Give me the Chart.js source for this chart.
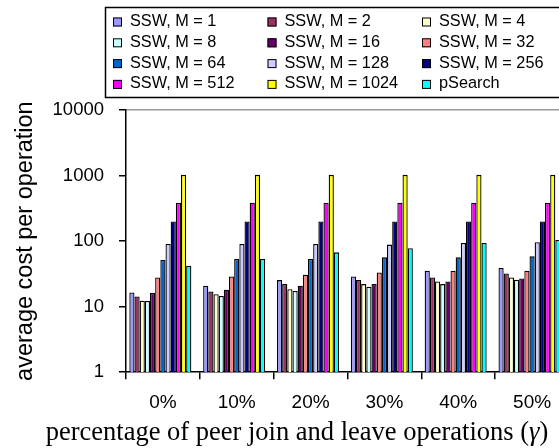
<!DOCTYPE html>
<html><head><meta charset="utf-8">
<script src="https://cdn.jsdelivr.net/npm/chart.js@4/dist/chart.umd.min.js"></script>
<style>
html,body{margin:0;padding:0;background:#fff;overflow:hidden;width:559px;height:448px;}
#wrap{position:relative;width:600px;height:448px;}
canvas{display:block;}
</style></head><body>
<div id="wrap"><canvas id="c" width="600" height="448"></canvas></div>
<script>
// ---- data ----
const categories = ['0%', '10%', '20%', '30%', '40%', '50%'];
const seriesLabels = ['SSW, M = 1', 'SSW, M = 2', 'SSW, M = 4', 'SSW, M = 8', 'SSW, M = 16', 'SSW, M = 32',
  'SSW, M = 64', 'SSW, M = 128', 'SSW, M = 256', 'SSW, M = 512', 'SSW, M = 1024', 'pSearch'];
const seriesColors = ['#9999FF', '#993366', '#FFFFCC', '#CCFFFF', '#660066', '#FF8080',
  '#0066CC', '#CCCCFF', '#000080', '#FF00FF', '#FFFF00', '#00FFFF'];
const sswM1    = [16.4, 20.8, 25.4, 28.9, 35.3, 38.8];
const sswM2    = [14.3, 17.0, 22.1, 25.4, 27.9, 32.1];
const sswM4    = [12.3, 15.5, 18.5, 22.1, 24.2, 27.9];
const sswM8    = [12.2, 14.6, 17.4, 20.1, 22.1, 25.7];
const sswM16   = [16.2, 18.1, 20.8, 22.1, 24.2, 26.9];
const sswM32   = [27.9, 28.9, 30.7, 33.3, 35.3, 35.3];
const sswM64   = [51.5, 53.4, 53.4, 56.5, 56.5, 58.5];
const sswM128  = [90.6, 90.6, 90.6, 88.4, 93.8, 95.9];
const sswM256  = [199, 199, 199, 199, 199, 199];
const sswM512  = [385, 385, 385, 385, 385, 385];
const sswM1024 = [1024, 1024, 1024, 1024, 1024, 1024];
const pSearch  = [42.2, 53.4, 67.3, 77.6, 93.8, 104];
const yTickValues = [1, 10, 100, 1000, 10000];
const yTitle = 'average cost per operation';
const xTitleMain = 'percentage of peer join and leave operations (';
const xTitleSym = 'γ';
const xTitleEnd = ')';

const seriesValues = [sswM1, sswM2, sswM4, sswM8, sswM16, sswM32, sswM64, sswM128, sswM256, sswM512, sswM1024, pSearch];

const datasets = seriesValues.map((vals, i) => ({
  label: seriesLabels[i],
  data: vals,
  backgroundColor: seriesColors[i],
  borderColor: '#000',
  borderWidth: 1.3,
  barPercentage: 1,
  categoryPercentage: 0.91
}));
// empty slot at the end of each cluster (the reference leaves its clusters left-shifted)
datasets.push({ label: '', data: [], backgroundColor: 'rgba(0,0,0,0)', borderWidth: 0, barPercentage: 1, categoryPercentage: 0.91 });

const gridLegend = {
  id: 'gridLegend',
  afterDraw(chart) {
    const ctx = chart.ctx;
    ctx.save();
    ctx.strokeStyle = '#000';
    ctx.lineWidth = 1.5;
    ctx.strokeRect(105.5, 7.5, 490, 90);
    ctx.font = '16.3px "Liberation Sans", Arial, sans-serif';
    ctx.textBaseline = 'middle';
    ctx.textAlign = 'left';
    const items = chart.data.datasets.filter(d => d.label);
    items.forEach((ds, i) => {
      const col = i % 3, row = Math.floor(i / 3);
      const x = 113 + col * 154.5;
      const y = 21.5 + row * 20.8;
      ctx.fillStyle = ds.backgroundColor;
      ctx.fillRect(x, y - 4, 9, 9);
      ctx.lineWidth = 1;
      ctx.strokeStyle = '#000';
      ctx.strokeRect(x + 0.5, y - 3.5, 8, 8);
      ctx.fillStyle = '#000';
      ctx.fillText(ds.label, x + 17, y);
    });
    // x-axis title
    const fMain = '26.5px "Liberation Serif", "Times New Roman", serif';
    const fSym = 'italic 26.5px "Liberation Serif", "Times New Roman", serif';
    ctx.font = fMain;
    const w1 = ctx.measureText(xTitleMain).width;
    const w3 = ctx.measureText(xTitleEnd).width;
    ctx.font = fSym;
    const w2 = ctx.measureText(xTitleSym).width;
    const total = w1 + w2 + w3;
    const xs = 297 - total / 2;
    const yb = 433;
    ctx.fillStyle = '#000';
    ctx.font = fMain; ctx.fillText(xTitleMain, xs, yb);
    ctx.font = fSym; ctx.fillText(xTitleSym, xs + w1, yb);
    ctx.font = fMain; ctx.fillText(xTitleEnd, xs + w1 + w2, yb);
    ctx.restore();
  }
};

new Chart(document.getElementById('c'), {
  type: 'bar',
  data: { labels: categories, datasets },
  plugins: [gridLegend],
  options: {
    responsive: false,
    animation: false,
    layout: { padding: { left: 0, right: 31, top: 110, bottom: 22 } },
    plugins: { legend: { display: false }, tooltip: { enabled: false } },
    scales: {
      x: {
        offset: true,
        grid: { offset: true, drawOnChartArea: false, tickLength: 7, tickColor: '#000', lineWidth: 1.5 },
        border: { color: '#000', width: 1.5 },
        ticks: { color: '#000', font: { family: '"Liberation Sans", Arial, sans-serif', size: 19 }, padding: 12, maxRotation: 0, autoSkip: false }
      },
      y: {
        type: 'logarithmic',
        min: 1,
        max: 10000,
        afterBuildTicks: (scale) => { scale.ticks = yTickValues.map(v => ({ value: v })); },
        afterFit: (scale) => { scale.width = 126; },
        grid: {
          drawOnChartArea: true,
          color: (c) => (c.tick && c.tick.value === 10000) ? '#999' : 'rgba(0,0,0,0)',
          tickColor: '#000', tickLength: 7, lineWidth: 1.5
        },
        border: { color: '#000', width: 1.5 },
        ticks: { color: '#000', font: { family: '"Liberation Sans", Arial, sans-serif', size: 18.5 }, padding: 15,
          callback: (v) => String(v) },
        title: { display: true, text: yTitle, color: '#000',
          font: { family: '"Liberation Sans", Arial, sans-serif', size: 23.5 }, padding: { top: 11, bottom: 0 } }
      }
    }
  }
});
</script>
</body></html>
